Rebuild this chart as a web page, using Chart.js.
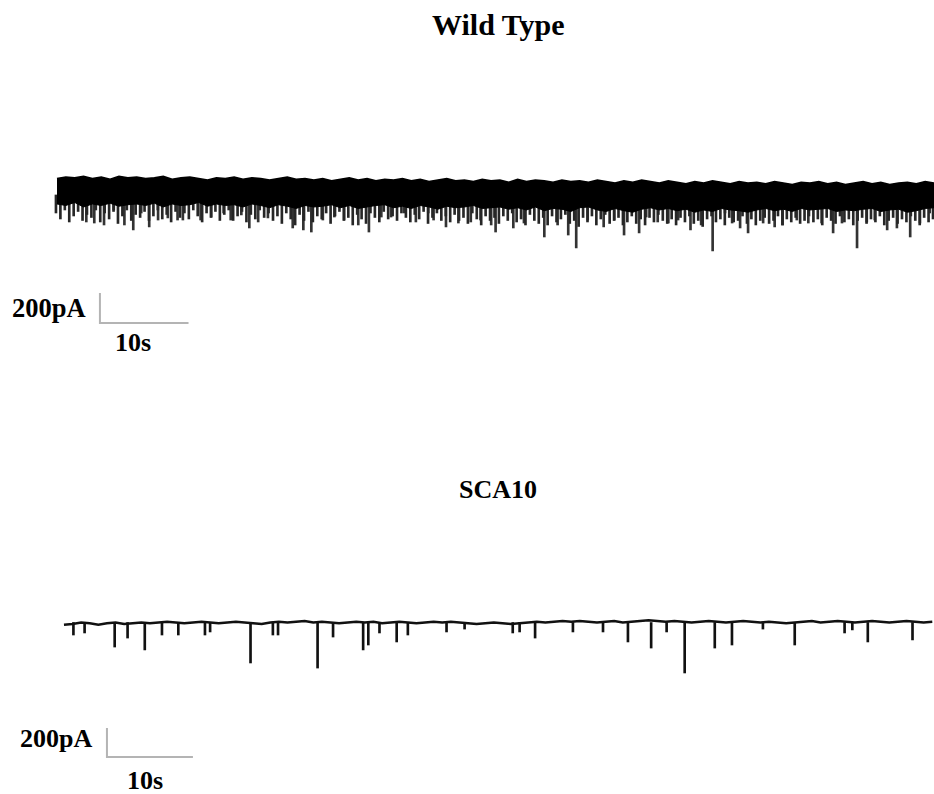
<!DOCTYPE html>
<html>
<head>
<meta charset="utf-8">
<script src="https://cdn.jsdelivr.net/npm/chart.js@4.4.0/dist/chart.umd.min.js"></script>
<style>
  html, body { margin: 0; padding: 0; background: #fff; }
  body { width: 934px; height: 794px; position: relative; overflow: hidden; }
  .box { position: absolute; left: 0; width: 934px; height: 397px; }
  .txt { position: absolute; font-family: "Liberation Serif", "Times New Roman", serif; font-weight: bold; line-height: 1; color: #000; white-space: nowrap; }
</style>
</head>
<body>
<div class="txt" style="left:432px; top:10px; font-size:30px;">Wild Type</div>
<div class="txt" style="left:459px; top:477px; font-size:26px;">SCA10</div>
<div class="txt" style="left:12px; top:295px; font-size:26.5px;">200pA</div>
<div class="txt" style="left:115px; top:330px; font-size:26px;">10s</div>
<div class="txt" style="left:20px; top:726px; font-size:26px;">200pA</div>
<div class="txt" style="left:127px; top:768px; font-size:26px;">10s</div>

<div class="box" style="top:0px;"><canvas id="chart1"></canvas></div>
<div class="box" style="top:397px;"><canvas id="chart2"></canvas></div>

<script>
// Wild Type: top edge and solid core bottom, once per second (pA)
const wtUpper = [
  10, 20, 15, 25, 10, 20, 5, 25, 15, 20,
  10, 15, 25, 5, 15, 20, 10, 0, 15, 10,
  20, 5, 15, 10, 0, 10, 20, 5, 10, 0,
  10, -5, 5, 15, 0, 10, -5, 5, 0, 10,
  -5, 5, -10, 0, 10, -5, 0, -10, 5, -5,
  0, -15, 5, -10, 0, -5, -15, 0, -10, -5,
  -15, 0, -10, -20, -5, -15, 0, -10, -20, -5,
  -15, -25, -10, -20, -5, -15, -25, -10, -20, -15,
  -25, -10, -20, -30, -15, -20, -10, -25, -15, -30,
  -20, -10, -25, -15, -30, -20, -15, -25, -10, -20
];
const wtCore = [
  -160, -170, -150, -180, -160, -170, -155, -175, -165, -160,
  -170, -155, -180, -160, -170, -165, -150, -175, -160, -170,
  -165, -180, -160, -170, -185, -165, -175, -190, -170, -180,
  -175, -165, -185, -170, -190, -180, -170, -165, -185, -175,
  -190, -170, -180, -195, -175, -185, -180, -170, -190, -185,
  -180, -195, -185, -200, -180, -205, -190, -195, -210, -185,
  -180, -200, -210, -190, -205, -215, -195, -185, -200, -190,
  -205, -195, -215, -200, -210, -190, -200, -205, -215, -200,
  -190, -205, -195, -210, -190, -200, -195, -190, -210, -200,
  -205, -195, -190, -210, -200, -195, -215, -205, -190, -185
];
// lower fringe of the band, every 0.5 s (pA)
const wtFringe = [
  -220, -260, -200, -280, -240, -210, -270, -230, -250, -200,
  -280, -220, -260, -210, -290, -240, -200, -270, -230, -250,
  -210, -270, -240, -200, -260, -230, -280, -210, -250, -220,
  -260, -200, -240, -280, -220, -250, -210, -270, -230, -200,
  -270, -240, -210, -280, -230, -260, -200, -250, -220, -270,
  -240, -290, -220, -260, -300, -230, -270, -210, -280, -240,
  -260, -220, -290, -240, -210, -270, -250, -300, -230, -260,
  -290, -220, -250, -280, -210, -260, -240, -270, -220, -250,
  -280, -230, -260, -210, -290, -250, -220, -270, -240, -280,
  -230, -270, -250, -290, -220, -260, -300, -240, -270, -250,
  -290, -240, -270, -220, -280, -260, -300, -230, -270, -290,
  -250, -300, -240, -280, -260, -230, -290, -270, -310, -250,
  -280, -240, -300, -260, -230, -290, -270, -250, -300, -280,
  -240, -290, -260, -300, -250, -280, -230, -270, -290, -260,
  -300, -250, -280, -240, -290, -270, -310, -260, -240, -280,
  -260, -300, -250, -280, -270, -240, -290, -260, -300, -270,
  -250, -290, -270, -240, -300, -260, -280, -250, -290, -270,
  -240, -280, -260, -300, -250, -270, -290, -240, -280, -260,
  -300, -270, -250, -290, -260, -280, -240, -300, -270, -250,
  -290, -260, -280, -240, -270, -300, -250, -280, -260
];
const wtFringeStep = 0.5;
const wtEventT = [
  3.2, 4.1, 5.2, 6.3, 7.5, 8.5, 9.4, 10.3, 11.3, 12.4,
  13.5, 14.1, 16.1, 17.3, 18.7, 19.5, 20.7, 21.6, 22.6, 23.7,
  26.5, 27.7, 28.6, 29.9, 31.2, 32.3, 33.9, 35.1, 36.5, 37.6,
  39.1, 40.4, 41.8, 42.4, 43.8, 45.2, 46.6, 47.7, 48.9, 49.4,
  51.4, 52.6, 54.9, 56.4, 57.6, 58.5, 59.8, 61.6, 62.8, 63.9,
  65.6, 66.4, 67.7, 68.9, 70.0, 71.4, 72.6, 73.9, 75.3, 76.1,
  77.0, 77.9, 79.6, 80.9, 81.8, 83.4, 84.7, 86.2, 87.5, 88.5,
  90.2, 91.3, 92.2, 93.6, 94.7, 96.2, 97.3, 98.4
];
const wtEventAmp = [
  -280, -287, -300, -200, -300, -333, -220, -313, -267, -253,
  -267, -267, -267, -247, -220, -267, -233, -320, -280, -253,
  -320, -333, -347, -267, -247, -267, -300, -347, -247, -247,
  -220, -280, -220, -267, -313, -287, -280, -267, -300, -347,
  -320, -287, -380, -300, -367, -453, -267, -313, -267, -367,
  -353, -247, -280, -287, -267, -333, -300, -473, -220, -287,
  -320, -353, -287, -313, -300, -267, -287, -287, -353, -287,
  -453, -280, -267, -333, -320, -380, -287, -220
];
const wtEventTop = -100;

// SCA10: baseline once per second (pA), plus events
const scaBase = [
  -5, 0, 10, 5, -5, 5, 10, 0, 5, 10,
  5, 10, 15, 10, 5, 10, 15, 10, 5, 10,
  15, 10, 5, 0, 10, 15, 10, 15, 20, 10,
  15, 10, 5, 10, 15, 10, 15, 5, 10, 15,
  10, 5, 10, 15, 10, 15, 10, 5, 0, 5,
  10, 5, 0, 5, 10, 15, 10, 15, 20, 15,
  20, 15, 10, 15, 20, 10, 15, 20, 25, 20,
  15, 20, 15, 10, 15, 20, 15, 10, 15, 20,
  15, 10, 15, 10, 5, 10, 15, 20, 10, 15,
  20, 15, 10, 15, 20, 15, 10, 15, 20, 15,
  10, 15
];
const scaEventT = [
  1.1, 2.4, 5.9, 7.4, 9.4, 11.4, 13.3, 16.4, 17.0, 21.7,
  24.3, 24.9, 29.5, 31.3, 34.8, 35.4, 36.7, 38.7, 40.0, 44.5,
  46.6, 52.2, 53.0, 54.8, 59.2, 62.7, 65.6, 68.3, 70.1, 72.2,
  75.7, 77.7, 81.3, 85.0, 90.8, 91.7, 93.5, 98.7
];
const scaEventAmp = [
  -76, -62, -159, -97, -179, -76, -76, -76, -55, -269,
  -76, -76, -304, -90, -179, -145, -62, -124, -76, -55,
  -35, -62, -55, -97, -55, -55, -124, -166, -55, -338,
  -166, -145, -35, -145, -62, -41, -124, -110
];
const scaEventTop = 10;

// scale bars: 200 pA by 10 s
const barPA = 200;
const barS = 10;

const traceChart = (id, opts) => {
  const ds = opts.datasets.concat([{
    type: 'line',
    data: [
      { x: opts.barT, y: opts.barY + barPA },
      { x: opts.barT, y: opts.barY },
      { x: opts.barT + barS, y: opts.barY }
    ],
    borderColor: '#b4b4b4',
    borderWidth: 2,
    pointRadius: 0,
    fill: false
  }]);
  return new Chart(document.getElementById(id), {
    type: 'line',
    data: { datasets: ds },
    options: {
      responsive: true,
      maintainAspectRatio: false,
      animation: false,
      layout: { padding: 0 },
      plugins: { legend: { display: false }, tooltip: { enabled: false } },
      scales: {
        x: { type: 'linear', min: opts.xMin, max: opts.xMax, display: false, offset: false },
        y: { min: opts.yMin, max: opts.yMax, display: false }
      }
    }
  });
};

traceChart('chart1', {
  xMin: -6.43, xMax: 99, yMin: -1447, yMax: 1200,
  barT: 4.85, barY: -953,
  datasets: [
    {
      type: 'line',
      data: wtUpper.map((v, i) => ({ x: i, y: v })),
      borderColor: '#000', borderWidth: 1.5, pointRadius: 0, fill: false
    },
    {
      type: 'line',
      data: wtCore.map((v, i) => ({ x: i, y: v })),
      borderColor: '#000', borderWidth: 1, pointRadius: 0,
      backgroundColor: '#000', fill: '-1'
    },
    {
      type: 'bar',
      data: wtFringe.map((v, i) => ({ x: i * wtFringeStep, y: [wtEventTop, v] })),
      backgroundColor: '#262626', barThickness: 2, borderWidth: 0
    },
    {
      type: 'bar',
      data: wtEventT.map((t, i) => ({ x: t, y: [wtEventTop, wtEventAmp[i]] })),
      backgroundColor: '#333', barThickness: 2, borderWidth: 0
    }
  ]
});

traceChart('chart2', {
  xMin: -7.44, xMax: 101.2, yMin: -1173, yMax: 1566,
  barT: 5, barY: -918,
  datasets: [
    {
      type: 'line',
      data: scaBase.map((v, i) => ({ x: i, y: v })),
      borderColor: '#111', borderWidth: 2.5, pointRadius: 0, fill: false
    },
    {
      type: 'bar',
      data: scaEventT.map((t, i) => ({ x: t, y: [scaEventTop, scaEventAmp[i]] })),
      backgroundColor: '#111', barThickness: 2, borderWidth: 0
    }
  ]
});
</script>
</body>
</html>
